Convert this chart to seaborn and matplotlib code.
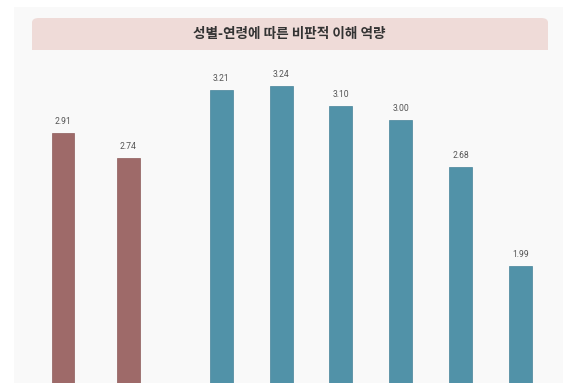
import matplotlib
matplotlib.use("Agg")
import matplotlib.pyplot as plt
import seaborn as sns
import pandas as pd
from matplotlib.patches import FancyBboxPatch, Rectangle

sns.set_theme(style="white")
plt.rcParams['font.family'] = ['Noto Sans CJK KR', 'DejaVu Sans']

title = "성별-연령에 따른 비판적 이해 역량"
gender_labels = ["남성", "여성"]
gender_values = [2.91, 2.74]
age_labels = ["10대", "20대", "30대", "40대", "50대", "60대 이상"]
age_values = [3.21, 3.24, 3.10, 3.00, 2.68, 1.99]

red = "#9e6a69"
teal = "#5192a8"
box = "#efdbd8"

W, H = 575, 383
fig = plt.figure(figsize=(W / 100, H / 100), dpi=100)
fig.patch.set_facecolor("white")

# light panel
fig.add_artist(Rectangle((14 / W, 0), (563 - 14) / W, (H - 7) / H,
                         transform=fig.transFigure, facecolor="#f9f9f9",
                         edgecolor="none", zorder=0))
# title box (rounded top, square bottom)
fig.add_artist(FancyBboxPatch((32 / W, (H - 50) / H), (548 - 32) / W, 32 / H,
                              boxstyle="round,pad=0,rounding_size=0.012",
                              transform=fig.transFigure, facecolor=box,
                              edgecolor="none", zorder=1))
fig.add_artist(Rectangle((32 / W, (H - 50) / H), (548 - 32) / W, 14 / H,
                         transform=fig.transFigure, facecolor=box,
                         edgecolor="none", zorder=1))
fig.text(289 / W, (H - 34) / H, title, ha="center", va="center",
         fontsize=9.8, fontweight="bold", color="#333333", zorder=2)

ymax = 3.5
px_per_unit = 144.2
y0_px = 553
top_px = y0_px - ymax * px_per_unit
bottom = (H - y0_px) / H
height = (y0_px - top_px) / H


def make_axes(left_px, right_px):
    ax = fig.add_axes([left_px / W, bottom, (right_px - left_px) / W, height])
    ax.set_facecolor("none")
    for s in ax.spines.values():
        s.set_visible(False)
    ax.set_ylim(0, ymax)
    return ax


ax1 = make_axes(30.3, 161.1)
df1 = pd.DataFrame({"group": gender_labels, "value": gender_values})
sns.barplot(data=df1, x="group", y="value", color=red, width=0.35,
            saturation=1, ax=ax1, edgecolor="#8e5d5c", linewidth=0.5)
ax1.set_xlim(-0.5, 1.5)

ax2 = make_axes(191.3, 550.4)
df2 = pd.DataFrame({"group": age_labels, "value": age_values})
sns.barplot(data=df2, x="group", y="value", color=teal, width=0.385,
            saturation=1, ax=ax2, edgecolor="#47849a", linewidth=0.5)
ax2.set_xlim(-0.5, 5.5)

for ax in (ax1, ax2):
    ax.set_xticks([])
    ax.set_yticks([])
    ax.set_xlabel("")
    ax.set_ylabel("")
    ax.set_ylim(0, ymax)
    for c in ax.containers:
        ax.bar_label(c, fmt="%.2f", padding=5, fontsize=6.2, color="#555555",
                     family=["Roboto", "DejaVu Sans"], fontstretch="condensed")

fig.savefig("out.png", dpi=100, facecolor=fig.get_facecolor())
